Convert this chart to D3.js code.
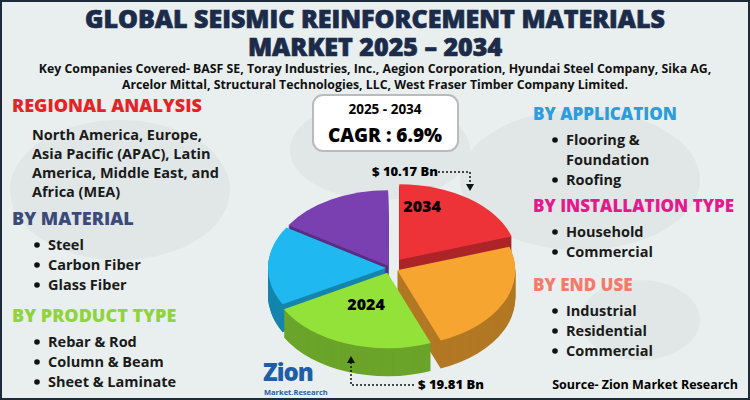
<!DOCTYPE html>
<html><head><meta charset="UTF-8">
<script src="https://cdn.jsdelivr.net/npm/d3@7"></script>
<style>body{margin:0}svg{font-family:"Open Sans",sans-serif}</style>
</head><body><svg id="c" width="750" height="400"></svg>
<script>
const titleLines = ["GLOBAL SEISMIC REINFORCEMENT MATERIALS", "MARKET 2025 – 2034"];
const subLines = ["Key Companies Covered- BASF SE, Toray Industries, Inc., Aegion Corporation, Hyundai Steel Company, Sika AG,",
  "Arcelor Mittal, Structural Technologies, LLC, West Fraser Timber Company Limited."];
const leftSections = [
  {h: "REGIONAL ANALYSIS", c: "#e52326", y: 112, bullets: false, items: ["North America, Europe,", "Asia Pacific (APAC), Latin", "America, Middle East, and", "Africa (MEA)"]},
  {h: "BY MATERIAL", c: "#3c4a7a", y: 225, bullets: true, items: ["Steel", "Carbon Fiber", "Glass Fiber"]},
  {h: "BY PRODUCT TYPE", c: "#8fd43a", y: 322, bullets: true, items: ["Rebar & Rod", "Column & Beam", "Sheet & Laminate"]}
];
const rightSections = [
  {h: "BY APPLICATION", c: "#2a9ce0", y: 120, items: ["Flooring &", "Foundation", "Roofing"], bul: [1,0,1]},
  {h: "BY INSTALLATION TYPE", c: "#e6198c", y: 212, items: ["Household", "Commercial"], bul: [1,1]},
  {h: "BY END USE", c: "#f27b6b", y: 291, items: ["Industrial", "Residential", "Commercial"], bul: [1,1,1]}
];
const sliceNames = ["2034", "other1", "2024", "other2", "other3"];
const sliceValues = [20, 24, 23, 17, 16];
const sliceColors = ["#ee3338", "#f7a531", "#93e23a", "#1fb8f0", "#7a3fb0"];
const valueTop = "$ 10.17 Bn", valueBottom = "$ 19.81 Bn";
const cagrYears = "2025 - 2034", cagrText = "CAGR : 6.9%";

const svg = d3.select("#c");
svg.append("rect").attr("width", 750).attr("height", 400).attr("fill", "#e9efee");
// faint world-ish blobs
[[120,190,110,70],[380,150,90,50],[580,180,120,70],[640,320,60,40]].forEach(b =>
  svg.append("ellipse").attr("cx", b[0]).attr("cy", b[1]).attr("rx", b[2]).attr("ry", b[3]).attr("fill", "#e1e7e6"));
svg.append("rect").attr("x", 1).attr("y", 1).attr("width", 748).attr("height", 398).attr("fill", "none").attr("stroke", "#1d2a3a").attr("stroke-width", 2);

titleLines.forEach((t, i) => svg.append("text").attr("x", 375).attr("y", 28 + i * 28).attr("text-anchor", "middle")
  .attr("font-size", 25).attr("font-weight", 800).attr("fill", "#1c2b4a").attr("stroke", "#1c2b4a").attr("stroke-width", 0.7).text(t));
subLines.forEach((t, i) => svg.append("text").attr("x", 375).attr("y", 73 + i * 16).attr("text-anchor", "middle")
  .attr("font-size", 12.3).attr("font-weight", 700).attr("fill", "#111").text(t));

leftSections.forEach(s => {
  svg.append("text").attr("x", 12).attr("y", s.y).attr("font-size", 18).attr("font-weight", 800).attr("fill", s.c).text(s.h);
  s.items.forEach((t, i) => {
    const y = s.y + (s.bullets ? 25 : 28) + i * (s.bullets ? 20 : 19);
    if (s.bullets) svg.append("circle").attr("cx", 37).attr("cy", y - 5).attr("r", 2.8).attr("fill", "#111");
    svg.append("text").attr("x", s.bullets ? 48 : 32).attr("y", y).attr("font-size", 14.5).attr("font-weight", 700).attr("fill", "#1a1a1a").text(t);
  });
});
rightSections.forEach(s => {
  svg.append("text").attr("x", 533).attr("y", s.y).attr("font-size", 17).attr("font-weight", 800).attr("fill", s.c).text(s.h);
  s.items.forEach((t, i) => {
    const y = s.y + 25 + i * 20;
    if (s.bul[i]) svg.append("circle").attr("cx", 555).attr("cy", y - 5).attr("r", 2.8).attr("fill", "#111");
    svg.append("text").attr("x", 566).attr("y", y).attr("font-size", 14.5).attr("font-weight", 700).attr("fill", "#1a1a1a").text(t);
  });
});

// CAGR box
svg.append("rect").attr("x", 313).attr("y", 95).attr("width", 145).attr("height", 56).attr("rx", 10)
  .attr("fill", "#fff").attr("stroke", "#bbb").attr("stroke-width", 2);
svg.append("text").attr("x", 385).attr("y", 114).attr("text-anchor", "middle").attr("font-size", 13.5).attr("font-weight", 700).text(cagrYears);
svg.append("text").attr("x", 385).attr("y", 142).attr("text-anchor", "middle").attr("font-size", 19).attr("font-weight", 800).text(cagrText);

// 3D pie
const cx = 390, cy = 268, R = 118, sy = 0.64, depth = 28;
const pie = d3.pie().sort(null).value(d => d)(sliceValues);
const arc = d3.arc().innerRadius(0).outerRadius(R);
const explode = [16, 8, 8, 4, 4];
const shade = c => d3.color(c).darker(0.9);
function off(d, i) { const a = (d.startAngle + d.endAngle) / 2; return [Math.sin(a) * explode[i], -Math.cos(a) * explode[i] * sy]; }
const order = pie.map((d, i) => i).sort((a, b) => Math.cos((pie[b].startAngle + pie[b].endAngle) / 2) - Math.cos((pie[a].startAngle + pie[a].endAngle) / 2));
for (let k = depth; k >= 1; k -= 1) {
  order.forEach(i => {
    const d = pie[i], o = off(d, i);
    svg.append("path").attr("d", arc(d))
      .attr("transform", `translate(${cx + o[0]},${cy + o[1] + k}) scale(1,${sy})`)
      .attr("fill", shade(sliceColors[i]));
  });
}
order.forEach(i => {
  const d = pie[i], o = off(d, i);
  svg.append("path").attr("d", arc(d))
    .attr("transform", `translate(${cx + o[0]},${cy + o[1]}) scale(1,${sy})`)
    .attr("fill", sliceColors[i]);
});
[[0, 422, 212], [2, 366, 310]].forEach(([i, x, y]) =>
  svg.append("text").attr("x", x).attr("y", y).attr("text-anchor", "middle").attr("font-size", 16).attr("font-weight", 800).text(sliceNames[i]));

// value callouts
svg.append("text").attr("x", 372).attr("y", 176).attr("font-size", 13).attr("font-weight", 800).text(valueTop);
svg.append("path").attr("d", "M438,172 H470 V185").attr("fill", "none").attr("stroke", "#111").attr("stroke-width", 1.5).attr("stroke-dasharray", "2,2");
svg.append("path").attr("d", "M466,184 L474,184 L470,191Z").attr("fill", "#111");
svg.append("text").attr("x", 418).attr("y", 389).attr("font-size", 13).attr("font-weight", 800).text(valueBottom);
svg.append("path").attr("d", "M351,362 V385 H415").attr("fill", "none").attr("stroke", "#111").attr("stroke-width", 1.5).attr("stroke-dasharray", "2,2");
svg.append("path").attr("d", "M347,363 L355,363 L351,356Z").attr("fill", "#111");

// logo
svg.append("text").attr("x", 263).attr("y", 381).attr("font-size", 24).attr("font-weight", 800).attr("fill", "#1e5ea8").attr("letter-spacing", -1).text("Zion");
svg.append("text").attr("x", 264).attr("y", 395).attr("font-size", 7.5).attr("font-weight", 700).attr("fill", "#1e5ea8").text("Market.Research");
svg.append("text").attr("x", 738).attr("y", 389).attr("text-anchor", "end").attr("font-size", 12.5).attr("font-weight", 700).text("Source- Zion Market Research");
</script></body></html>
